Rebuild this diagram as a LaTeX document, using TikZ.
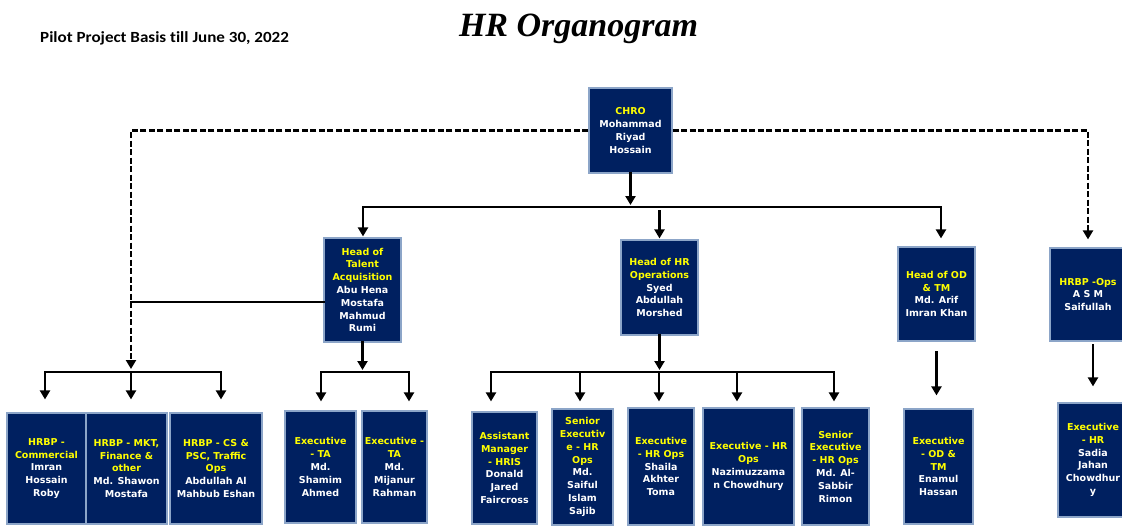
\documentclass[tikz,border=0pt]{standalone}
\usepackage{fontspec}
\usetikzlibrary{arrows.meta}
\newfontfamily\boxfont{DejaVu Sans}
\newfontfamily\titlefont{Liberation Serif}
\newfontfamily\pilotfont[FakeStretch=1.1,Ligatures=NoCommon]{Carlito}
\definecolor{navy}{RGB}{0,32,96}
\definecolor{boxedge}{RGB}{140,165,200}
\definecolor{roleyellow}{RGB}{255,255,0}
\newcommand\role[1]{\textcolor{roleyellow}{#1}}
\tikzset{
  orgbox/.style={draw=boxedge, line width=1.2pt, fill=navy, text=white, align=center,
    inner sep=0pt, font=\boxfont\bfseries\fontsize{9.5}{12.8}\selectfont},
  link/.style={line width=2.6pt, black, line cap=rect},
  conn/.style={link, -{Triangle[length=9pt,width=10pt]}},
  dotlink/.style={line width=2.8pt, black, dash pattern=on 6pt off 2.5pt, -{Triangle[length=9pt,width=10pt]}},
}
\begin{document}
\begin{tikzpicture}[x=1pt,y=-1pt]
\useasboundingbox (0,0) rectangle (1122,525);
% titles
\node[anchor=base, inner sep=0pt, font=\titlefont\bfseries\itshape\fontsize{34}{40}\selectfont] (title) at (578.5,36) {HR Organogram};
\node[anchor=base west, inner sep=0pt, font=\pilotfont\bfseries\fontsize{15.5}{18}\selectfont] (pilot) at (40,42) {Pilot Project Basis till June 30, 2022};
% top level
\node[orgbox, minimum width=83pt, minimum height=85pt] (chro) at (630.5,130.5)
  {\role{CHRO}\\Mohammad\\Riyad\\Hossain};
% second level
\node[orgbox, minimum width=77pt, minimum height=104pt] (ta) at (362.5,290)
  {\role{Head of}\\\role{Talent}\\\role{Acquisition}\\Abu Hena\\Mostafa\\Mahmud\\Rumi};
\node[orgbox, minimum width=77pt, minimum height=95pt] (ops) at (659.5,287.5)
  {\role{Head of HR}\\\role{Operations}\\Syed\\Abdullah\\Morshed};
\node[orgbox, minimum width=77pt, minimum height=94pt] (od) at (936.5,294)
  {\role{Head of OD}\\\role{\& TM}\\Md. Arif\\Imran Khan};
\node[orgbox, minimum width=76pt, minimum height=93pt] (hrbpops) at (1088,294.5)
  {\role{HRBP -Ops}\\A S M\\Saifullah};
% bottom row
\node[orgbox, minimum width=79pt, minimum height=111pt] (b1) at (46.5,468.5)
  {\role{HRBP -}\\\role{Commercial}\\Imran\\Hossain\\Roby};
\node[orgbox, minimum width=81pt, minimum height=111pt] (b2) at (126.5,468.5)
  {\role{HRBP - MKT,}\\\role{Finance \&}\\\role{other}\\Md. Shawon\\Mostafa};
\node[orgbox, minimum width=92pt, minimum height=111pt] (b3) at (216,468.5)
  {\role{HRBP - CS \&}\\\role{PSC, Traffic}\\\role{Ops}\\Abdullah Al\\Mahbub Eshan};
\node[orgbox, minimum width=71pt, minimum height=112pt] (t1) at (320.5,467)
  {\role{Executive}\\\role{- TA}\\Md.\\Shamim\\Ahmed};
\node[orgbox, minimum width=65pt, minimum height=112pt] (t2) at (394.5,467)
  {\role{Executive -}\\\role{TA}\\Md.\\Mijanur\\Rahman};
\node[orgbox, minimum width=65pt, minimum height=112pt] (oA) at (504.5,468)
  {\role{Assistant}\\\role{Manager}\\\role{- HRIS}\\Donald\\Jared\\Faircross};
\node[orgbox, minimum width=61pt, minimum height=116pt] (oB) at (582.5,467)
  {\role{Senior}\\\role{Executiv}\\\role{e - HR}\\\role{Ops}\\Md.\\Saiful\\Islam\\Sajib};
\node[orgbox, minimum width=66pt, minimum height=117pt] (oC) at (661,466.5)
  {\role{Executive}\\\role{- HR Ops}\\Shaila\\Akhter\\Toma};
\node[orgbox, minimum width=91pt, minimum height=117pt] (oD) at (748.5,466.5)
  {\role{Executive - HR}\\\role{Ops}\\Nazimuzzama\\n Chowdhury};
\node[orgbox, minimum width=67pt, minimum height=117pt] (oE) at (835.5,466.5)
  {\role{Senior}\\\role{Executive}\\\role{- HR Ops}\\Md. Al-\\Sabbir\\Rimon};
\node[orgbox, minimum width=69pt, minimum height=115pt] (eod) at (938.5,466.5)
  {\role{Executive}\\\role{- OD \&}\\\role{TM}\\Enamul\\Hassan};
\node[orgbox, minimum width=70pt, minimum height=114pt] (ehr) at (1093,460)
  {\role{Executive}\\\role{- HR}\\Sadia\\Jahan\\Chowdhur\\y};
% bar coordinates
\coordinate (topL) at (363,207);
\coordinate (topR) at (941,207);
\coordinate (lbL) at (45,372);
\coordinate (lbM) at (131,372);
\coordinate (lbR) at (221,372);
\coordinate (taL) at (321,372);
\coordinate (taR) at (409,372);
\coordinate (opL) at (491,372);
\coordinate (op2) at (580,372);
\coordinate (op3) at (659,372);
\coordinate (op4) at (737,372);
\coordinate (opR) at (834,372);
% top tree
\draw[link] (topL) -- (topR);
\draw[conn, shorten >=2pt] (chro.south) -- (chro.south |- topL);
\draw[conn, shorten >=1pt] (topL) -- (topL |- ta.north);
\draw[conn, shorten <=4pt, shorten >=1pt] (ops.north |- topL) -- (ops.north);
\draw[conn, shorten >=8pt] (topR) -- (topR |- od.north);
% dashed links
\draw[dotlink, shorten >=3pt] (chro.west) -| (lbM);
\draw[dotlink, shorten >=8pt] (chro.east) -| (hrbpops.north);
\draw[link] ([yshift=-12pt]ta.west) -- ([yshift=-12pt]ta.west -| lbM);
% left group
\draw[link] (lbL) -- (lbR);
\draw[conn, shorten >=13pt] (lbL) -- (lbL |- b1.north);
\draw[conn, shorten >=13pt] (lbM) -- (lbM |- b2.north);
\draw[conn, shorten >=13pt] (lbR) -- (lbR |- b3.north);
% TA group
\draw[conn, shorten >=2pt] (ta.south) -- (ta.south |- taL);
\draw[link] (taL) -- (taR);
\draw[conn, shorten >=9pt] (taL) -- (taL |- t1.north);
\draw[conn, shorten >=9pt] (taR) -- (taR |- t2.north);
% Ops group
\draw[conn, shorten >=2pt] (ops.south) -- (ops.south |- opL);
\draw[link] (opL) -- (opR);
\draw[conn, shorten >=10pt] (opL) -- (opL |- oA.north);
\draw[conn, shorten >=7pt] (op2) -- (op2 |- oB.north);
\draw[conn, shorten >=6pt] (op3) -- (op3 |- oC.north);
\draw[conn, shorten >=6pt] (op4) -- (op4 |- oD.north);
\draw[conn, shorten >=6pt] (opR) -- (opR |- oE.north);
% OD and HRBP Ops
\draw[conn, shorten <=11pt, shorten >=13pt] (od.south) -- (od.south |- eod.north);
\draw[conn, shorten <=4pt, shorten >=16pt] (ehr.north |- hrbpops.south) -- (ehr.north);
\end{tikzpicture}
\end{document}
